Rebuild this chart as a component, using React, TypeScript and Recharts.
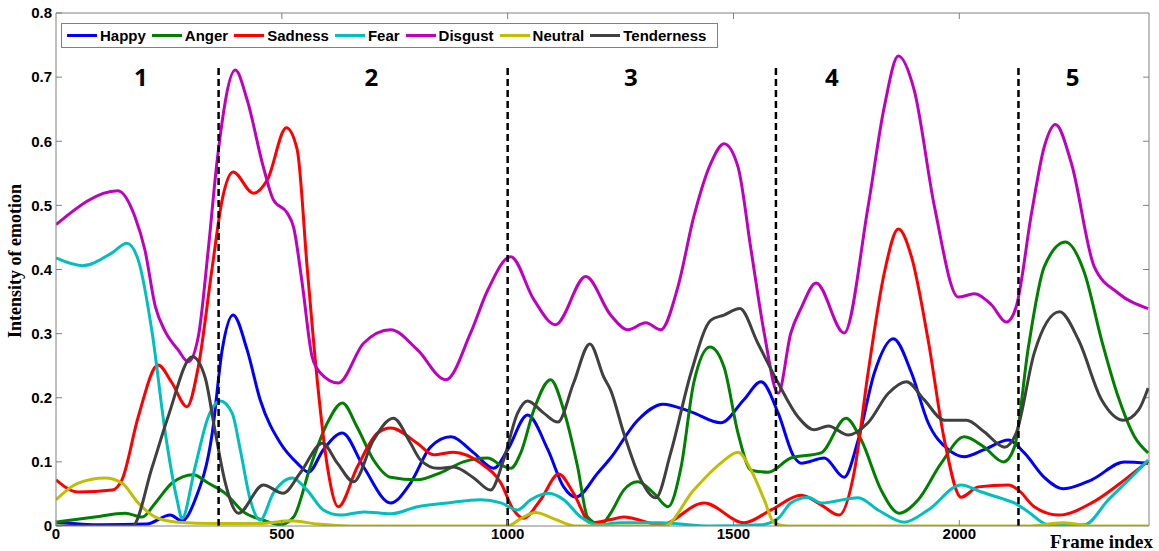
import React from 'react';
import { LineChart, Line, XAxis, YAxis, ReferenceLine, ReferenceDot } from 'recharts';

// [frame, intensity] pairs
const happy: [number, number][] = [
  [0, 0.006], [100, 0.002], [200, 0.003], [253, 0.017], [279, 0.008], [308, 0.041], [346, 0.145],
  [368, 0.275], [392, 0.329], [423, 0.275], [452, 0.197], [497, 0.129], [534, 0.098], [559, 0.084],
  [592, 0.119], [634, 0.145], [681, 0.092], [741, 0.036], [785, 0.067], [829, 0.123], [874, 0.139],
  [925, 0.114], [969, 0.09], [1000, 0.119], [1044, 0.173], [1089, 0.119], [1124, 0.061], [1151, 0.045],
  [1200, 0.083], [1228, 0.106], [1288, 0.165], [1344, 0.19], [1406, 0.178], [1472, 0.161], [1523, 0.197],
  [1561, 0.225], [1599, 0.176], [1634, 0.108], [1650, 0.098], [1701, 0.106], [1745, 0.076], [1776, 0.134],
  [1812, 0.239], [1854, 0.292], [1894, 0.239], [1931, 0.161], [1976, 0.119], [2011, 0.108], [2055, 0.119],
  [2109, 0.134], [2144, 0.114], [2188, 0.076], [2231, 0.058], [2293, 0.072], [2366, 0.1], [2418, 0.098],
];

const anger: [number, number][] = [
  [0, 0.006], [86, 0.014], [153, 0.02], [191, 0.014], [220, 0.036], [257, 0.067], [304, 0.08],
  [337, 0.067], [375, 0.051], [415, 0.022], [459, 0.009], [497, 0.002], [526, 0.014], [563, 0.092],
  [601, 0.161], [634, 0.192], [667, 0.154], [703, 0.103], [741, 0.076], [800, 0.072], [851, 0.083],
  [902, 0.1], [956, 0.106], [985, 0.095], [1007, 0.09], [1029, 0.114], [1058, 0.181], [1095, 0.228],
  [1124, 0.181], [1155, 0.092], [1177, 0.014], [1206, 0.002], [1228, 0.02], [1257, 0.056], [1288, 0.069],
  [1324, 0.051], [1355, 0.03], [1384, 0.092], [1412, 0.223], [1448, 0.279], [1479, 0.248], [1510, 0.145],
  [1539, 0.087], [1577, 0.084], [1627, 0.106], [1694, 0.114], [1749, 0.168], [1783, 0.134], [1827, 0.056],
  [1867, 0.02], [1909, 0.041], [1960, 0.098], [2011, 0.139], [2055, 0.123], [2098, 0.1], [2122, 0.123],
  [2153, 0.279], [2188, 0.404], [2235, 0.443], [2277, 0.395], [2315, 0.29], [2352, 0.201], [2388, 0.139],
  [2418, 0.114],
];

const sadness: [number, number][] = [
  [0, 0.072], [49, 0.053], [124, 0.056], [146, 0.072], [182, 0.17], [226, 0.251], [257, 0.223],
  [290, 0.186], [315, 0.248], [346, 0.404], [368, 0.509], [392, 0.552], [437, 0.519], [468, 0.54],
  [510, 0.621], [534, 0.587], [556, 0.404], [579, 0.223], [601, 0.092], [625, 0.03], [667, 0.092],
  [712, 0.145], [741, 0.153], [800, 0.129], [836, 0.111], [880, 0.115], [940, 0.098], [985, 0.067],
  [1013, 0.025], [1035, 0.012], [1073, 0.041], [1113, 0.081], [1146, 0.051], [1184, 0.005], [1228, 0.01],
  [1257, 0.014], [1339, 0.002], [1435, 0.036], [1523, 0.005], [1583, 0.025], [1650, 0.048], [1694, 0.033],
  [1734, 0.017], [1767, 0.083], [1798, 0.239], [1834, 0.395], [1865, 0.463], [1894, 0.42], [1931, 0.29],
  [1967, 0.134], [2004, 0.045], [2042, 0.061], [2109, 0.064], [2131, 0.056], [2166, 0.03], [2220, 0.017],
  [2293, 0.036], [2366, 0.072], [2418, 0.101],
];

const fear: [number, number][] = [
  [0, 0.418], [58, 0.406], [124, 0.426], [157, 0.441], [182, 0.415], [213, 0.301], [242, 0.145],
  [268, 0.041], [279, 0.012], [308, 0.092], [337, 0.17], [364, 0.195], [390, 0.176], [408, 0.119],
  [430, 0.041], [452, 0.009], [481, 0.051], [523, 0.075], [556, 0.056], [592, 0.025], [630, 0.017],
  [681, 0.022], [741, 0.019], [800, 0.03], [867, 0.036], [940, 0.041], [985, 0.036], [1022, 0.025],
  [1051, 0.041], [1091, 0.051], [1124, 0.041], [1162, 0.014], [1200, 0.002], [1251, 0.005], [1339, 0.005],
  [1450, 0.0], [1561, 0.002], [1599, 0.012], [1627, 0.036], [1665, 0.045], [1694, 0.036], [1776, 0.044],
  [1820, 0.025], [1878, 0.006], [1931, 0.025], [2004, 0.064], [2049, 0.053], [2093, 0.043], [2122, 0.036],
  [2153, 0.022], [2197, 0.002], [2277, 0.002], [2330, 0.041], [2381, 0.076], [2418, 0.103],
];

const disgust: [number, number][] = [
  [0, 0.47], [137, 0.523], [175, 0.482], [197, 0.43], [220, 0.342], [242, 0.303], [270, 0.275],
  [293, 0.256], [315, 0.295], [337, 0.43], [357, 0.571], [397, 0.711], [423, 0.665], [459, 0.56],
  [481, 0.509], [512, 0.488], [526, 0.466], [545, 0.379], [567, 0.264], [585, 0.239], [625, 0.223],
  [681, 0.285], [741, 0.306], [800, 0.275], [863, 0.228], [918, 0.301], [956, 0.368], [1007, 0.42],
  [1058, 0.353], [1106, 0.314], [1173, 0.389], [1228, 0.329], [1266, 0.306], [1306, 0.317], [1339, 0.306],
  [1377, 0.373], [1412, 0.482], [1450, 0.566], [1479, 0.596], [1510, 0.56], [1539, 0.43], [1568, 0.301],
  [1599, 0.207], [1627, 0.301], [1650, 0.34], [1683, 0.379], [1745, 0.301], [1798, 0.498], [1834, 0.654],
  [1865, 0.733], [1900, 0.68], [1945, 0.498], [1998, 0.357], [2033, 0.362], [2071, 0.345], [2104, 0.318],
  [2126, 0.342], [2160, 0.488], [2188, 0.591], [2213, 0.626], [2248, 0.566], [2299, 0.404], [2352, 0.363],
  [2418, 0.339],
];

const neutral: [number, number][] = [
  [0, 0.041], [49, 0.067], [109, 0.075], [146, 0.067], [182, 0.036], [220, 0.014], [270, 0.006],
  [350, 0.004], [450, 0.004], [520, 0.008], [580, 0.003], [650, 0.0], [1000, 0.0], [1030, 0.012],
  [1062, 0.021], [1100, 0.012], [1150, 0.0], [1346, 0.0], [1412, 0.056], [1472, 0.098], [1510, 0.115],
  [1539, 0.087], [1568, 0.041], [1590, 0.005], [1620, 0.0], [2150, 0.0], [2230, 0.005], [2300, 0.0],
  [2418, 0.0],
];

const tenderness: [number, number][] = [
  [0, 0.0], [169, 0.0], [213, 0.092], [248, 0.17], [302, 0.264], [330, 0.232], [353, 0.145],
  [375, 0.067], [404, 0.02], [459, 0.064], [503, 0.051], [541, 0.083], [590, 0.129], [623, 0.098],
  [659, 0.069], [703, 0.134], [747, 0.168], [785, 0.129], [807, 0.103], [845, 0.09], [880, 0.092],
  [925, 0.075], [962, 0.056], [991, 0.103], [1022, 0.176], [1044, 0.195], [1080, 0.176], [1111, 0.162],
  [1146, 0.223], [1182, 0.284], [1213, 0.232], [1228, 0.212], [1257, 0.145], [1295, 0.072], [1328, 0.044],
  [1361, 0.114], [1406, 0.239], [1450, 0.321], [1479, 0.329], [1514, 0.339], [1554, 0.285], [1599, 0.223],
  [1643, 0.17], [1679, 0.15], [1710, 0.156], [1754, 0.142], [1798, 0.161], [1843, 0.207], [1883, 0.225],
  [1922, 0.197], [1967, 0.165], [2016, 0.165], [2055, 0.147], [2100, 0.123], [2126, 0.145], [2166, 0.27],
  [2222, 0.334], [2264, 0.29], [2315, 0.197], [2364, 0.165], [2397, 0.181], [2418, 0.215],
];

const SERIES = [
  { name: 'Happy', color: '#0000ff', pts: happy },
  { name: 'Anger', color: '#008000', pts: anger },
  { name: 'Sadness', color: '#ff0000', pts: sadness },
  { name: 'Fear', color: '#00bfbf', pts: fear },
  { name: 'Disgust', color: '#bf00bf', pts: disgust },
  { name: 'Neutral', color: '#bfbf00', pts: neutral },
  { name: 'Tenderness', color: '#404040', pts: tenderness },
];

const X_MAX = 2420;
const Y_MAX = 0.8;
const xTicks = [0, 500, 1000, 1500, 2000];
const yTicks = [0, 0.1, 0.2, 0.3, 0.4, 0.5, 0.6, 0.7, 0.8];
const segmentBounds = [360, 1000, 1594, 2131];
const segmentLabels = [
  { label: '1', frame: 188 },
  { label: '2', frame: 698 },
  { label: '3', frame: 1273 },
  { label: '4', frame: 1718 },
  { label: '5', frame: 2251 },
];

const W = 1159;
const H = 551;
const tickFont = { fontFamily: 'Arial, "Liberation Sans", sans-serif', fontSize: 15, fontWeight: 700, fill: '#000' };
const axisGray = '#808080';

export default function App() {
  return (
    <div style={{ position: 'absolute', left: 0, top: 0, width: W, height: H, background: '#fff' }}>
      <LineChart width={W} height={H} margin={{ top: 13, right: 10, left: 0, bottom: 0 }}>
        <XAxis
          type="number"
          dataKey="f"
          domain={[0, X_MAX]}
          ticks={xTicks}
          height={25}
          tickSize={-6}
          tickMargin={8}
          tick={tickFont}
          stroke={axisGray}
          allowDataOverflow
        />
        <YAxis
          type="number"
          domain={[0, Y_MAX]}
          ticks={yTicks}
          width={56}
          tickSize={-6}
          tickMargin={10}
          tick={tickFont}
          tickFormatter={(v: number) => (v === 0 ? '0' : v.toFixed(1))}
          stroke={axisGray}
          allowDataOverflow
        />

        {/* box: top and right edges with inward ticks */}
        <ReferenceLine y={Y_MAX} stroke={axisGray} ifOverflow="visible" />
        <ReferenceLine x={X_MAX} stroke={axisGray} ifOverflow="visible" />
        {xTicks.slice(1).map((t) => (
          <ReferenceLine
            key={`tt${t}`}
            segment={[{ x: t, y: Y_MAX }, { x: t, y: Y_MAX - 0.0094 }]}
            stroke={axisGray}
            ifOverflow="visible"
          />
        ))}
        {yTicks.slice(1, -1).map((t) => (
          <ReferenceLine
            key={`rt${t}`}
            segment={[{ x: X_MAX - 13, y: t }, { x: X_MAX, y: t }]}
            stroke={axisGray}
            ifOverflow="visible"
          />
        ))}

        {SERIES.map((s) => (
          <Line
            key={s.name}
            data={s.pts.map(([f, v]) => ({ f, v }))}
            dataKey="v"
            name={s.name}
            type="monotone"
            stroke={s.color}
            strokeWidth={3}
            dot={false}
            activeDot={false}
            isAnimationActive={false}
          />
        ))}
        {segmentBounds.map((x) => (
          <ReferenceLine
            key={x}
            segment={[{ x, y: 0 }, { x, y: 0.718 }]}
            stroke="#000"
            strokeWidth={2.5}
            strokeDasharray="7 4"
          />
        ))}
        {segmentLabels.map((s) => (
          <ReferenceDot
            key={s.label}
            x={s.frame}
            y={0.7}
            r={1}
            fill="none"
            stroke="none"
            label={{
              value: s.label,
              position: 'center',
              fill: '#000',
              fontSize: 24,
              fontWeight: 700,
              fontFamily: '"Open Sans", sans-serif',
            }}
          />
        ))}
      </LineChart>

      {/* legend box */}
      <div
        style={{
          position: 'absolute',
          left: 61,
          top: 23,
          width: 650,
          height: 23,
          border: '1px solid #808080',
          background: '#fff',
          display: 'flex',
          alignItems: 'center',
          paddingLeft: 5,
          gap: 6,
          fontFamily: 'Arial, "Liberation Sans", sans-serif',
          fontWeight: 700,
          fontSize: 15,
          color: '#000',
        }}
      >
        {SERIES.map((s) => (
          <div key={s.name} style={{ display: 'flex', alignItems: 'center', gap: 3 }}>
            <span style={{ display: 'inline-block', width: 30, height: 3, background: s.color }} />
            <span>{s.name}</span>
          </div>
        ))}
      </div>

      {/* axis titles */}
      <svg width={W} height={H} style={{ position: 'absolute', left: 0, top: 0, pointerEvents: 'none' }}>
        <text
          x={15}
          y={261}
          transform="rotate(-90 15 261)"
          textAnchor="middle"
          dominantBaseline="central"
          fontFamily='"Times New Roman", "Liberation Serif", serif'
          fontWeight={700}
          fontSize={18}
        >
          Intensity of emotion
        </text>
        <text
          x={1153}
          y={548}
          textAnchor="end"
          fontFamily='"Times New Roman", "Liberation Serif", serif'
          fontWeight={700}
          fontSize={19}
        >
          Frame index
        </text>
      </svg>
    </div>
  );
}
